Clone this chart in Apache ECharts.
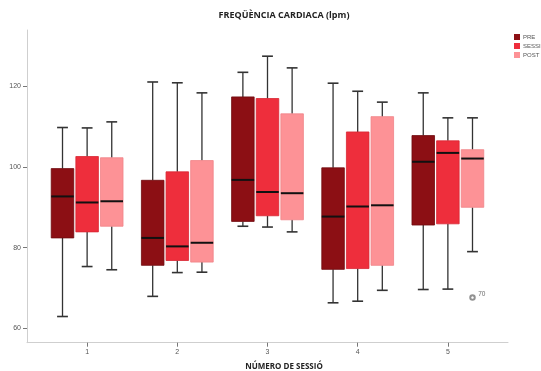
<!DOCTYPE html>
<html>
<head>
<meta charset="utf-8">
<script src="https://cdn.jsdelivr.net/npm/echarts@6/dist/echarts.min.js"></script>
<style>html,body{margin:0;padding:0;background:#fff}#c{width:541px;height:371px}</style>
</head>
<body>
<div id="c"></div>
<script>
// Sessions (x categories)
const sessions = [1, 2, 3, 4, 5];
const seriesNames = ['PRE', 'SESSIÓ', 'POST'];
// Each entry: [lower whisker, Q1, median, Q3, upper whisker]
const preValues = [
  [62.9, 82.4, 92.7, 99.6, 109.8],
  [67.9, 75.6, 82.4, 96.7, 121.1],
  [85.3, 86.5, 96.8, 117.4, 123.5],
  [66.3, 74.6, 87.7, 99.8, 120.8],
  [69.6, 85.6, 101.3, 107.8, 118.4]
];
const sessioValues = [
  [75.3, 83.9, 91.2, 102.6, 109.7],
  [73.8, 76.8, 80.3, 98.8, 120.9],
  [85.1, 87.9, 93.8, 117.0, 127.5],
  [66.7, 74.8, 90.2, 108.7, 118.8],
  [69.7, 85.9, 103.5, 106.5, 112.2]
];
const postValues = [
  [74.5, 85.3, 91.5, 102.3, 111.2],
  [73.9, 76.4, 81.2, 101.6, 118.4],
  [83.9, 86.9, 93.5, 113.2, 124.6],
  [69.4, 75.6, 90.5, 112.5, 116.1],
  [79.0, 90.0, 102.1, 104.3, 112.2]
];
// Outliers: [session, value, case label]
const postOutliers = [[5, 67.6, '70']];
const yTicks = [60, 80, 100, 120];

const colors = ['#8c0f14', '#ee2e3c', '#fd9296'];
const borders = ['#6e0a0e', '#d82632', '#f08388'];
const offsets = [-0.273, 0, 0.273];
const allValues = [preValues, sessioValues, postValues];

function makeRender(k) {
  return function (params, api) {
    const x = api.value(0) + offsets[k];
    const lo = api.coord([x, api.value(1)]);
    const q1 = api.coord([x, api.value(2)]);
    const md = api.coord([x, api.value(3)]);
    const q3 = api.coord([x, api.value(4)]);
    const hi = api.coord([x, api.value(5)]);
    const hw = api.size([0.125, 0])[0];
    const cw = hw * 0.48;
    const cx = lo[0];
    const wStyle = { stroke: '#333', lineWidth: 1.3 };
    return {
      type: 'group',
      children: [
        { type: 'line', shape: { x1: cx, y1: hi[1], x2: cx, y2: q3[1] }, style: wStyle },
        { type: 'line', shape: { x1: cx, y1: q1[1], x2: cx, y2: lo[1] }, style: wStyle },
        { type: 'line', shape: { x1: cx - cw, y1: hi[1], x2: cx + cw, y2: hi[1] }, style: { stroke: '#333', lineWidth: 1.6 } },
        { type: 'line', shape: { x1: cx - cw, y1: lo[1], x2: cx + cw, y2: lo[1] }, style: { stroke: '#333', lineWidth: 1.6 } },
        { type: 'rect', shape: { x: cx - hw, y: q3[1], width: hw * 2, height: q1[1] - q3[1] },
          style: { fill: colors[k], stroke: borders[k], lineWidth: 0.8 } },
        { type: 'line', shape: { x1: cx - hw, y1: md[1], x2: cx + hw, y2: md[1] }, style: { stroke: '#111', lineWidth: 2 } }
      ]
    };
  };
}

const series = seriesNames.map((name, k) => ({
  name: name,
  type: 'custom',
  renderItem: makeRender(k),
  itemStyle: { color: colors[k] },
  encode: { x: 0, y: [1, 2, 3, 4, 5] },
  data: sessions.map((s, i) => [s].concat(allValues[k][i])),
  z: 2
}));

series.push({
  name: 'outliers',
  type: 'scatter',
  symbol: 'emptyCircle',
  symbolSize: 4.5,
  itemStyle: { color: '#777', borderWidth: 0.7 },
  data: postOutliers.map(o => ({ value: [o[0] + offsets[2], o[1]], label: { formatter: o[2] } })),
  label: { show: true, position: 'insideTopLeft', offset: [4, -9], fontSize: 6.5, color: '#444', fontFamily: 'Liberation Sans' },
  z: 3
});

const chart = echarts.init(document.getElementById('c'));
chart.setOption({
  animation: false,
  backgroundColor: '#fff',
  title: {
    text: 'FREQÜÈNCIA CARDIACA (lpm)',
    left: 284, top: 11, textAlign: 'center', padding: 0,
    textStyle: { fontSize: 9, fontWeight: 'bold', color: '#222', fontFamily: 'Open Sans' }
  },
  legend: {
    data: seriesNames,
    orient: 'vertical',
    left: 509, top: 29,
    icon: 'rect', itemWidth: 6, itemHeight: 6, itemGap: 3,
    textStyle: { fontSize: 6, color: '#555', fontFamily: 'Liberation Sans', padding: [0, 0, 0, -2] }
  },
  grid: { left: 27, right: 33, top: 30, bottom: 28.3, outerBoundsMode: 'none', containLabel: false },
  xAxis: {
    type: 'value', min: 1 / 3, max: 17 / 3,
    name: 'NÚMERO DE SESSIÓ', nameLocation: 'middle', nameGap: 20,
    nameTextStyle: { fontSize: 8, fontWeight: 'bold', color: '#222', fontFamily: 'Open Sans', padding: [0, 0, 0, 33] },
    splitLine: { show: false },
    axisLine: { onZero: false, lineStyle: { color: '#cfcfcf', width: 1 } },
    axisTick: { show: true, length: 4, customValues: sessions, lineStyle: { color: '#777' } },
    axisLabel: { customValues: sessions, fontSize: 7, color: '#555', margin: 6, fontFamily: 'Liberation Sans' }
  },
  yAxis: {
    type: 'value', min: 56.4, max: 134,
    splitLine: { show: false },
    axisLine: { show: true, lineStyle: { color: '#cfcfcf', width: 1 } },
    axisTick: { show: true, length: 4, customValues: yTicks, lineStyle: { color: '#777' } },
    axisLabel: { customValues: yTicks, fontSize: 7, color: '#555', margin: 6, fontFamily: 'Liberation Sans' }
  },
  series: series
});
</script>
</body>
</html>
